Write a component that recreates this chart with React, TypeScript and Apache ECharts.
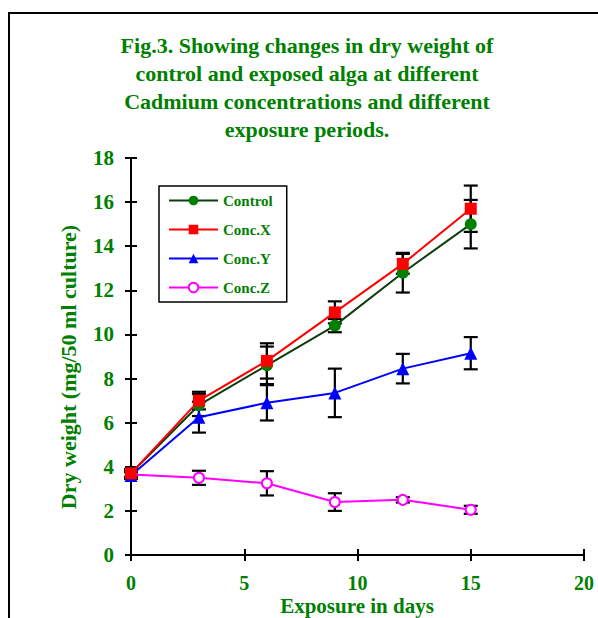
import React, { useEffect, useRef } from "react";
import * as echarts from "echarts";

const days = [0, 3, 6, 9, 12, 15];
const control = [3.7, 6.8, 8.6, 10.4, 12.8, 15.0];
const controlErr = [0.15, 0.5, 0.85, 0.3, 0.9, 1.1];
const concX = [3.7, 7.0, 8.8, 11.0, 13.2, 15.7];
const concXErr = [0.2, 0.4, 0.8, 0.5, 0.45, 1.05];
const concY = [3.6, 6.25, 6.9, 7.35, 8.45, 9.15];
const concYErr = [0.15, 0.7, 0.8, 1.1, 0.67, 0.73];
const concZ = [3.65, 3.5, 3.25, 2.4, 2.5, 2.05];
const concZErr = [0.2, 0.32, 0.55, 0.4, 0.12, 0.18];

const titleText =
  "Fig.3. Showing changes in dry weight of\ncontrol and exposed alga at different\nCadmium concentrations and different\nexposure periods.";
const xName = "Exposure in days";
const yName = "Dry weight (mg/50 ml culture)";

const GREEN = "#008000";
const FONT = "'Liberation Serif', 'Times New Roman', serif";

function errData(vals: number[], errs: number[]) {
  return days.map((d, i) => [d, vals[i] - errs[i], vals[i] + errs[i]]);
}

export default function App() {
  const ref = useRef<HTMLDivElement>(null);
  useEffect(() => {
    const chart = echarts.init(ref.current!, null, { renderer: "svg" });
    const allErr = [
      ...errData(control, controlErr),
      ...errData(concX, concXErr),
      ...errData(concY, concYErr),
      ...errData(concZ, concZErr),
    ];
    const tickLabel = { color: GREEN, fontWeight: "bold", fontSize: 20, fontFamily: FONT, lineHeight: 20 };
    chart.setOption({
      animation: false,
      backgroundColor: "#fff",
      grid: { left: 131, right: 14, top: 158, bottom: 63 },
      graphic: [
        {
          type: "rect",
          shape: { x: 9, y: 13, width: 620, height: 640 },
          style: { fill: "none", stroke: "#000", lineWidth: 2 },
          z: 0,
        },
        {
          type: "text",
          x: 307,
          y: 31,
          style: {
            text: titleText,
            textAlign: "center",
            textVerticalAlign: "top",
            font: `bold 22px ${FONT}`,
            lineHeight: 28,
            fill: GREEN,
          },
        },
        {
          type: "text",
          x: 357,
          y: 606,
          style: {
            text: xName,
            textAlign: "center",
            textVerticalAlign: "middle",
            font: `bold 21px ${FONT}`,
            lineHeight: 20,
            fill: GREEN,
          },
        },
        {
          type: "text",
          x: 68,
          y: 367,
          rotation: Math.PI / 2,
          style: {
            text: yName,
            textAlign: "center",
            textVerticalAlign: "middle",
            font: `bold 22px ${FONT}`,
            fill: GREEN,
          },
        },
      ],
      legend: {
        orient: "vertical",
        left: 159,
        top: 186,
        padding: [7, 14, 7, 9],
        itemWidth: 49,
        itemHeight: 12,
        itemGap: 14,
        borderColor: "#000",
        borderWidth: 1.5,
        textStyle: { color: GREEN, fontWeight: "bold", fontSize: 15, fontFamily: FONT },
        data: ["Control", "Conc.X", "Conc.Y", "Conc.Z"],
      },
      xAxis: [
        {
          type: "value",
          min: 0,
          max: 20,
          interval: 5,
          axisLine: { lineStyle: { color: "#000", width: 2 } },
          axisTick: { show: true, length: 6, lineStyle: { color: "#000", width: 2 } },
          axisLabel: { ...tickLabel, margin: 18 },
          splitLine: { show: false },
        },
        {
          type: "value",
          position: "bottom",
          min: 0,
          max: 20,
          interval: 5,
          axisLine: { show: false },
          axisTick: { show: true, inside: true, length: 6, lineStyle: { color: "#000", width: 2 } },
          axisLabel: { show: false },
          splitLine: { show: false },
        },
      ],
      yAxis: [
        {
          type: "value",
          min: 0,
          max: 18,
          interval: 2,
          axisLine: { show: true, lineStyle: { color: "#000", width: 2 } },
          axisTick: { show: true, length: 6, lineStyle: { color: "#000", width: 2 } },
          axisLabel: { ...tickLabel, fontSize: 21, margin: 17 },
          splitLine: { show: false },
        },
        {
          type: "value",
          position: "left",
          min: 0,
          max: 18,
          interval: 2,
          axisLine: { show: false },
          axisTick: { show: true, inside: true, length: 6, lineStyle: { color: "#000", width: 2 } },
          axisLabel: { show: false },
          splitLine: { show: false },
        },
      ],
      series: [
        {
          type: "custom",
          name: "err",
          z: 1,
          silent: true,
          data: allErr,
          renderItem: (params: any, api: any) => {
            const x = api.value(0);
            const lo = api.coord([x, api.value(1)]);
            const hi = api.coord([x, api.value(2)]);
            const hw = 7;
            const style = { stroke: "#000", lineWidth: 2.2 };
            return {
              type: "group",
              children: [
                { type: "line", shape: { x1: lo[0], y1: lo[1], x2: hi[0], y2: hi[1] }, style },
                { type: "line", shape: { x1: lo[0] - hw, y1: lo[1], x2: lo[0] + hw, y2: lo[1] }, style },
                { type: "line", shape: { x1: hi[0] - hw, y1: hi[1], x2: hi[0] + hw, y2: hi[1] }, style },
              ],
            };
          },
        },
        {
          type: "line",
          name: "Conc.Z",
          z: 3,
          data: days.map((d, i) => [d, concZ[i]]),
          symbol: "circle",
          symbolSize: 10,
          lineStyle: { color: "#ff00ff", width: 2 },
          itemStyle: { color: "#fff", borderColor: "#ff00ff", borderWidth: 2 },
          color: "#ff00ff",
        },
        {
          type: "line",
          name: "Conc.Y",
          z: 3,
          data: days.map((d, i) => [d, concY[i]]),
          symbol: "triangle",
          symbolSize: 13,
          lineStyle: { color: "#0000ff", width: 2 },
          itemStyle: { color: "#0000ff" },
        },
        {
          type: "line",
          name: "Control",
          z: 3,
          data: days.map((d, i) => [d, control[i]]),
          symbol: "circle",
          symbolSize: 12,
          lineStyle: { color: "#0b3d0b", width: 2 },
          itemStyle: { color: "#008000" },
        },
        {
          type: "line",
          name: "Conc.X",
          z: 3,
          data: days.map((d, i) => [d, concX[i]]),
          symbol: "rect",
          symbolSize: 12,
          lineStyle: { color: "#ff0000", width: 2 },
          itemStyle: { color: "#ff0000" },
        },
      ],
    });
    return () => chart.dispose();
  }, []);
  return (
    <div
      ref={ref}
      style={{ position: "absolute", left: 0, top: 0, width: 598, height: 618 }}
    />
  );
}
